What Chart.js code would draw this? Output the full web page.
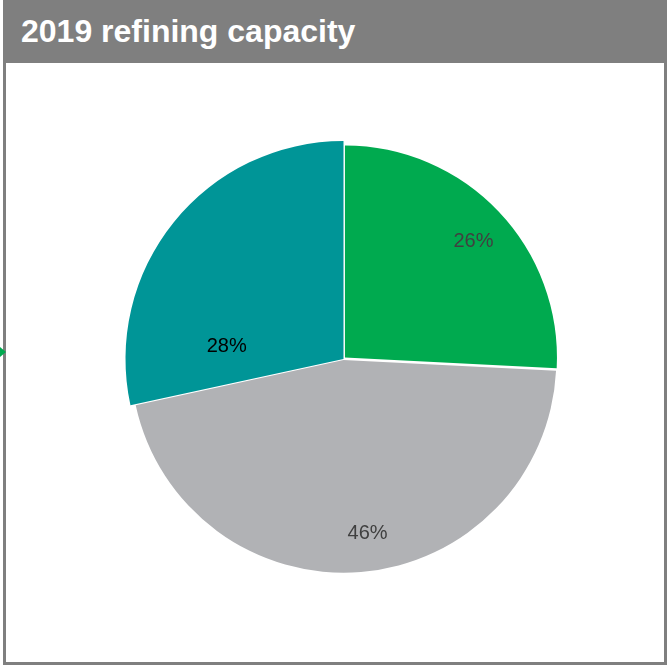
<!DOCTYPE html>
<html>
<head>
<meta charset="utf-8">
<script src="https://cdn.jsdelivr.net/npm/chart.js@4/dist/chart.umd.min.js"></script>
<style>
  body { margin: 0; background: #fff; }
  #frame { position: absolute; left: 3px; top: 0; width: 658px; height: 662px; border: 3px solid #7f7f7f; border-top: none; }
  #title { position: absolute; left: 3px; top: 0; width: 664px; height: 63px; background: #7f7f7f; color: #fff;
           font: bold 32px "Liberation Sans", Arial, sans-serif; line-height: 63px; padding-left: 18px; box-sizing: border-box; }
  #arrow { position: absolute; left: 0; top: 347px; width: 0; height: 0; border-top: 5px solid transparent;
           border-bottom: 5px solid transparent; border-left: 6px solid #00a94f; }
  #box { position: absolute; left: 6px; top: 64px; width: 655px; height: 596px; }
</style>
</head>
<body>
<div id="frame"></div>
<div id="title">2019 refining capacity</div>
<div id="arrow"></div>
<div id="box"><canvas id="chart"></canvas></div>
<script>
const labels = ["Green", "Grey", "Teal"];
const shares = [25.8, 45.8, 28.4];
const colors = ["#00aa4f", "#b1b2b5", "#009597"];
const labelColors = ["#404040", "#404040", "#000000"];

// per-slice look: outer radius in px, label distance (fraction of radius), label angle shift (deg)
const sliceRadius = [212, 212, 218];
const labelRadius = [0.826, 0.83, 0.539];
const labelTurn = [1.5, -3.2, -32.8];

const radiusPlugin = {
    id: "sliceRadius",
    afterDatasetsUpdate(chart) {
        chart.getDatasetMeta(0).data.forEach(function (arc, i) {
            arc.outerRadius = sliceRadius[i];
        });
    }
};

const labelPlugin = {
    id: "sliceLabels",
    afterDatasetsDraw(chart) {
        const ctx = chart.ctx;
        const arcs = chart.getDatasetMeta(0).data;
        ctx.save();
        ctx.font = "20px 'Liberation Sans', Arial, sans-serif";
        ctx.textAlign = "center";
        ctx.textBaseline = "middle";
        arcs.forEach(function (arc, i) {
            const p = arc.getProps(["x", "y", "startAngle", "endAngle", "outerRadius"], true);
            const a = (p.startAngle + p.endAngle) / 2 + labelTurn[i] * Math.PI / 180;
            const r = p.outerRadius * labelRadius[i];
            ctx.fillStyle = labelColors[i];
            ctx.fillText(Math.round(shares[i]) + "%", p.x + Math.cos(a) * r, p.y + Math.sin(a) * r);
        });
        ctx.restore();
    }
};

new Chart(document.getElementById("chart"), {
    type: "pie",
    data: {
        labels: labels,
        datasets: [
            {
                data: shares,
                backgroundColor: colors,
                borderWidth: 0,
                offset: [8, 4, 0]
            }
        ]
    },
    options: {
        responsive: true,
        maintainAspectRatio: false,
        animation: false,
        radius: 212,
        layout: { padding: { left: 20, top: 0, right: 0, bottom: 6 } },
        plugins: {
            legend: { display: false },
            tooltip: { enabled: false }
        }
    },
    plugins: [radiusPlugin, labelPlugin]
});
</script>
</body>
</html>
